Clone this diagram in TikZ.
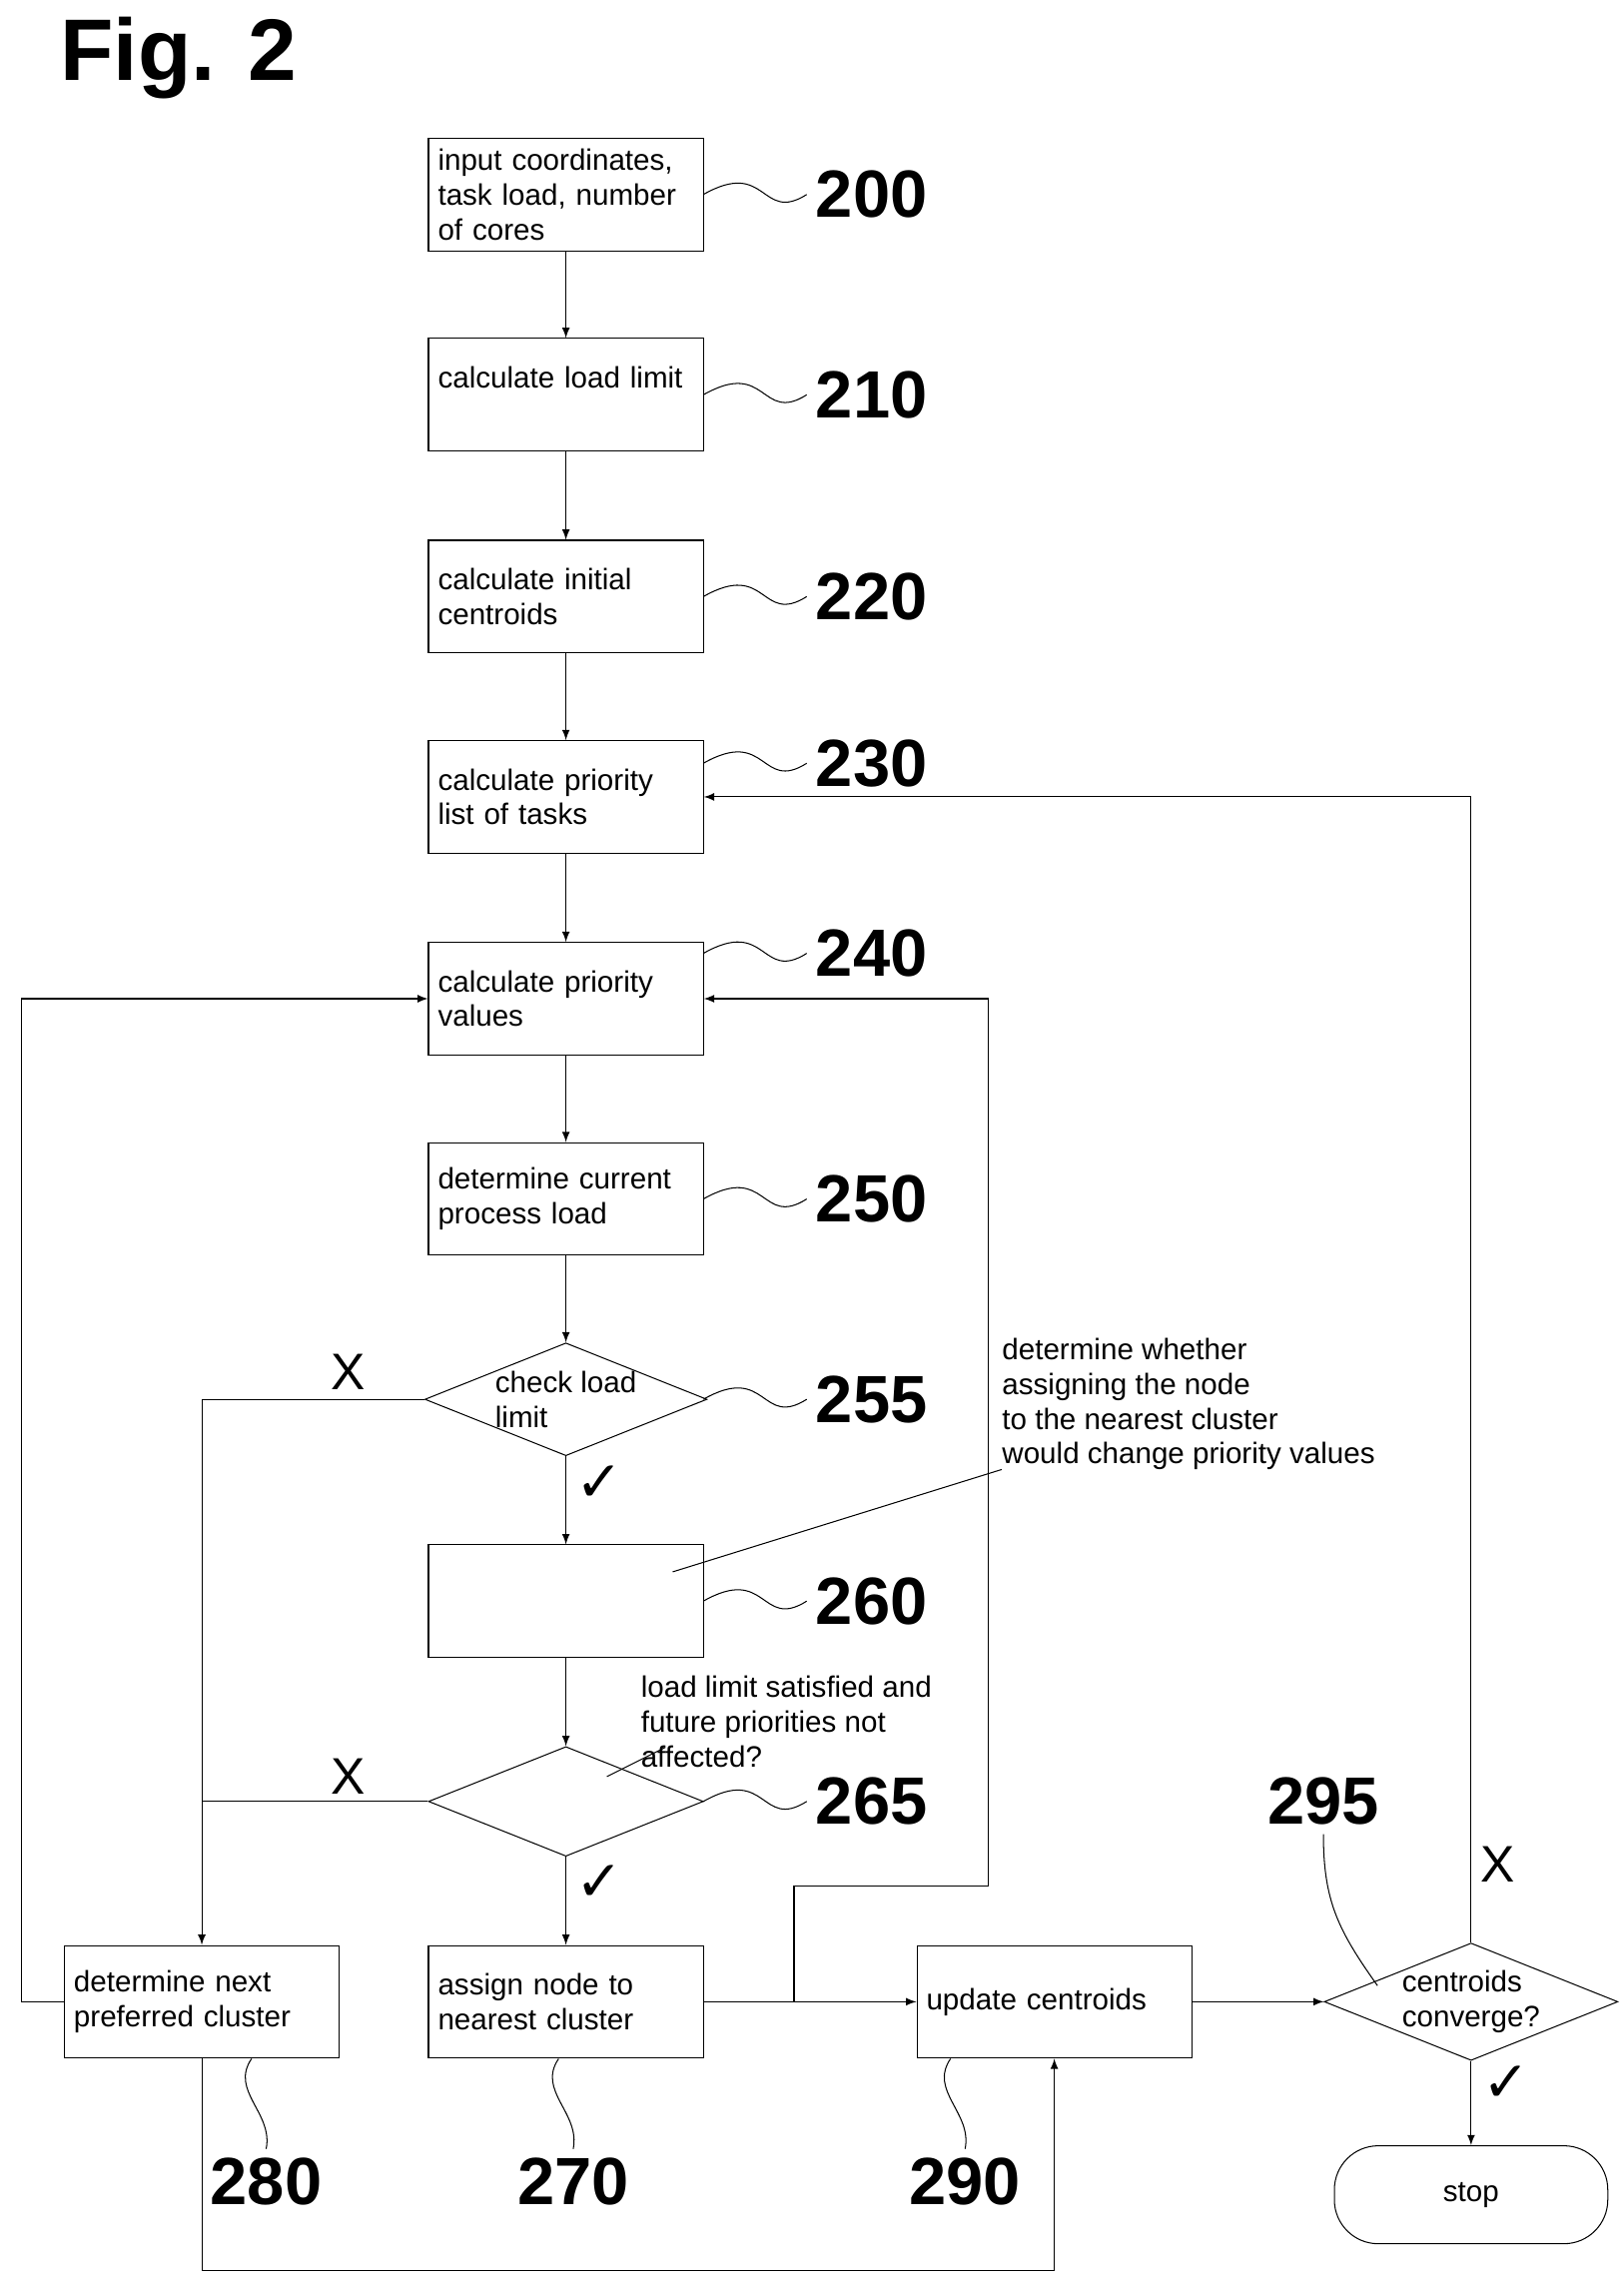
\documentclass[tikz,border=0pt]{standalone}
\usepackage{fontspec}
\setmainfont{Liberation Sans}
\newfontfamily\symfont{DejaVu Sans}
\usetikzlibrary{arrows,positioning,shapes.geometric}
\begin{document}
\begin{tikzpicture}[x=0.02cm, y=-0.02cm, >=latex, font=\fontsize{11.5}{13.5}\selectfont,
box/.style={rectangle, draw, minimum width=3.76cm, minimum height=1.54cm, text width=3.5cm, align=left, inner sep=2pt},
check/.style={diamond, draw, aspect=2.5, minimum width=3.76cm, minimum height=1.5cm, inner sep=0pt, align=left},
num/.style={font=\bfseries\fontsize{26}{26}\selectfont},
line/.style={draw, ->},
wave/.style={draw, thin}]
\useasboundingbox (0,0) rectangle (1110,1560);
\node[font=\bfseries\fontsize{34}{34}\selectfont] (fig) at (122,40) {Fig. 2};

% Nodes
\node[box] (s200) at (387,133) {input coordinates, task load, number of cores};
\node[box] (s210) at (387,270) {calculate load limit\\\mbox{}\\[0.5em]};
\node[box] (s220) at (387,408) {calculate initial centroids\\[0.5em]};
\node[box] (s230) at (387,545) {calculate priority list of tasks\\[0.5em]};
\node[box] (s240) at (387,683) {calculate priority values\\[0.5em]};
\node[box] (s250) at (387,820) {determine current process load\\[0.5em]};
\node[check] (s255) at (387,957) {check load\\limit};
\node[box] (s260) at (387,1095) {};
\node[check] (s265) at (387,1232) {};
\node[box] (s270) at (387,1369) {assign node to nearest cluster};
\node[box] (s280) at (138,1369) {determine next preferred cluster};
\node[box] (s290) at (721,1369) {update centroids\\[0.5em]};
\node[check] (s295) at (1006,1369) {centroids\\converge?};
\node[draw, rounded corners=0.6cm, minimum width=3.74cm, minimum height=1.34cm] (stop) at (1006,1501) {stop};

% Annotations
\node[anchor=north west, align=left, inner sep=0pt] (a260) at (685,915) {determine whether\\assigning the node\\to the nearest cluster\\would change priority values};
\node[anchor=north west, align=left, inner sep=0pt] (a265) at (438,1146) {load limit satisfied and\\future priorities not\\affected?};
\draw (460,1075) -- (a260.west |- 0,1005);
\draw (415,1215) -- (455,1195);

% Reference numbers
\foreach \s/\y in {200/133,210/270,220/408,230/522,240/652,250/820,255/957,260/1095,265/1232}{
  \node[num] (n\s) at (596,\y) {\s};
  \draw[wave] (481,\y) .. controls (525,\y-25) and (520,\y+20) .. (n\s.west);
}
\foreach \s/\x in {280/182,270/392,290/660}{
  \node[num] (n\s) at (\x,1492) {\s};
  \draw[wave] (\x-10,1408) .. controls (\x-25,1430) and (\x+5,1445) .. (n\s.north);
}
\node[num] (n295) at (905,1232) {295};
\draw[wave] (n295.south) .. controls (905,1300) and (915,1320) .. (942,1358);

% Paths
\path[line] (s200) -- (s210);
\path[line] (s210) -- (s220);
\path[line] (s220) -- (s230);
\path[line] (s230) -- (s240);
\path[line] (s240) -- (s250);
\path[line] (s250) -- (s255);
\path[line] (s255) -- (s260);
\path[line] (s260) -- (s265);
\path[line] (s265) -- (s270);
\path[line] (s255.west) -| (s280.north);
\draw (s265.west) -- (138,1232);
\path[line] (s280.west) -- (15,1369) |- (s240.west);
\path[line] (s280.south) -- (138,1553) -| (s290.south);
\path[line] (s270) -- (s290);
\path[line] (543,1369) -- (543,1290) -- (676,1290) |- (s240.east);
\path[line] (s290) -- (s295);
\path[line] (s295.north) |- (s230.east);
\path[line] (s295) -- (stop);

% Labels
\node[font=\fontsize{20}{20}\selectfont] at (238,938) {X};
\node[font=\fontsize{20}{20}\selectfont] at (238,1215) {X};
\node[font=\fontsize{20}{20}\selectfont] at (1024,1275) {X};
\node[font=\symfont\fontsize{22}{22}\selectfont] at (410,1015) {✓};
\node[font=\symfont\fontsize{22}{22}\selectfont] at (410,1288) {✓};
\node[font=\symfont\fontsize{22}{22}\selectfont] at (1030,1425) {✓};
\end{tikzpicture}
\end{document}
